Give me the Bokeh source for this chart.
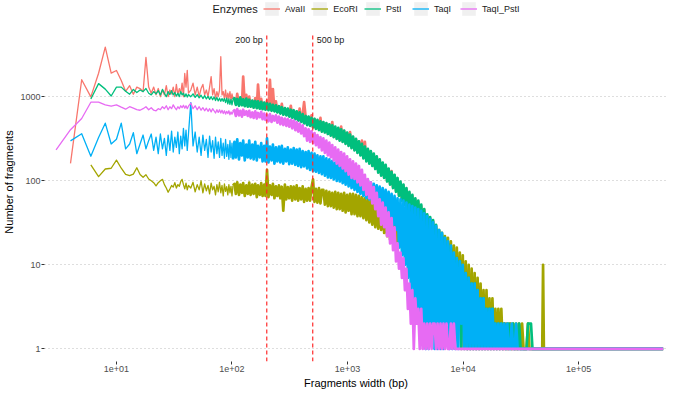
import math
from bokeh.plotting import figure
from bokeh.models import (Range1d, FixedTicker, CustomJSTickFormatter, Legend,
                          LegendItem, Label)
from bokeh.embed import file_html
from bokeh.resources import INLINE

N = float("nan")

# Fragment width (bp) grid shared by every series
X_BP = [
    3, 4, 5, 6, 7, 8, 9, 10, 11, 12,
    13, 14, 15, 16, 17, 18, 19, 20, 21, 22,
    23, 24, 25, 26, 27, 28, 29, 30, 31, 32,
    33, 34, 35, 36, 37, 38, 39, 40, 41, 42,
    44, 46, 48, 50, 52, 54, 56, 58, 60, 62,
    64, 66, 68, 70, 72, 74, 76, 78, 80, 82,
    84, 86, 88, 90, 92, 94, 96, 98, 100, 102,
    105, 108, 111, 115, 118, 122, 125, 129, 133, 137,
    141, 145, 150, 154, 159, 164, 168, 174, 179, 184,
    190, 195, 201, 207, 213, 220, 226, 233, 240, 247,
    255, 262, 270, 278, 287, 295, 304, 313, 323, 332,
    342, 353, 363, 374, 385, 397, 409, 421, 434, 447,
    460, 474, 488, 503, 518, 533, 549, 566, 583, 600,
    618, 637, 656, 676, 696, 717, 738, 760, 783, 807,
    831, 856, 881, 908, 935, 963, 992, 1022, 1052, 1084,
    1116, 1150, 1184, 1220, 1256, 1294, 1333, 1373, 1414, 1456,
    1500, 1545, 1591, 1639, 1688, 1739, 1791, 1845, 1900, 1957,
    2016, 2076, 2139, 2203, 2269, 2337, 2407, 2479, 2554, 2630,
    2709, 2791, 2874, 2961, 3049, 3141, 3235, 3332, 3432, 3535,
    3641, 3750, 3863, 3979, 4098, 4221, 4348, 4478, 4612, 4751,
    4893, 5040, 5191, 5347, 5507, 5673, 5843, 6018, 6199, 6385,
    6576, 6774, 6977, 7186, 7402, 7624, 7853, 8088, 8331, 8581,
    8838, 9104, 9377, 9658, 9948, 10246, 10554, 10870, 11196, 11532,
    11878, 12235, 12602, 12980, 13369, 13770, 14183, 14609, 15047, 15498,
    15963, 16442, 16936, 17444, 17967, 18506, 19061, 19633, 20222, 20829,
    21454, 22097, 22760, 23443, 24146, 24871, 25617, 26385, 27177, 27992,
    28832, 29697, 30588, 31506, 32451, 33424, 34427, 35460, 36524, 37619,
    38748, 39911, 41108, 44000, 48500, 49300, 50100, 120000, 300000, 540000,
]

AVAII = [
    N, 161, 1590, 995, 1900, 3880, 1910, 2050, 1560, 1160,
    1350, 1070, 1300, 1250, 1150, 2930, 1300, 1100, 1300, 1050,
    1250, 1000, 1200, 1050, 1350, 1000, 1200, 1080, 1300, 1000,
    1400, 1050, 1250, 1100, 1450, 1000, 1890, 1300, 2060, 1100,
    1200, 1450, 1050, 1300, 1000, 1250, 1400, 1050, 1200, 1000,
    1300, 1730, 1050, 1250, 950, 1150, 1000, 1200, 2990, 1050,
    1150, 950, 1200, 900, 1100, 950, 1150, 900, 1080, 950,
    940, 820, 1080, 800, 920, 810, 1730, 790, 1050, 780,
    1000, 770, 890, 750, 960, 740, 1390, 730, 940, 720,
    840, 710, 900, 700, 1585, 690, 1230, 680, 880, 660,
    760, 640, 820, 620, 720, 610, 710, 590, 780, 570,
    680, 550, 660, 530, 720, 510, 610, 860, 580, 470,
    570, 460, 600, 440, 540, 420, 520, 410, 560, 390,
    490, 380, 480, 365, 460, 350, 500, 335, 430, 320,
    420, 305, 440, 295, 390, 280, 370, 265, 380, 250,
    330, 235, 310, 220, 290, 205, 300, 190, 290, 175,
    235, 165, 220, 155, 205, 142, 190, 130, 175, 118,
    160, 110, 150, 100, 136, 92, 130, 84, 115, 76,
    104, 68, 95, 60, 88, 54, 80, 48, 72, 42,
    66, 38, 60, 33, 56, 29, 50, 25, 45, 21,
    39, 16, 36, 13, 33, 11, 29, 9, 25, 7,
    22, 6, 20, 5, 18, 4, 15, 3, 13, 2,
    12, 2, 11, 1, 10, 2, 8, 1, 7, 1,
    6, 1, 6, 1, 5, 1, 4, 1, 4, 1,
    3, 1, 3, 1, 2, 1, 2, 1, 2, 1,
    2, 1, 1, 2, 1, 1, 2, 1, 1, 1,
    1, 1, 1, 1, 1, 1, 1, 1, 1, 1,
    1, 1, 1, 1, 1, 1, 1, 1, 1, 1,
]

ECORI = [
    N, N, N, 155, 112, 138, 141, 176, 141, 119,
    115, 120, 143, 119, 110, 118, 105, 100, 95, 87,
    95, 100, 104, 90, 82, 73, 80, 88, 84, 95,
    82, 90, 86, 98, 104, 90, 80, 94, 78, 88,
    82, 96, 74, 90, 78, 100, 72, 92, 76, 88,
    70, 94, 78, 86, 68, 90, 74, 96, 72, 88,
    66, 92, 75, 85, 68, 90, 72, 86, 66, 88,
    92, 70, 96, 68, 90, 72, 94, 66, 88, 70,
    95, 68, 90, 70, 92, 64, 88, 68, 94, 66,
    90, 66, 135, 64, 88, 68, 92, 62, 86, 66,
    88, 62, 85, 44, 90, 60, 84, 62, 86, 58,
    85, 60, 88, 58, 82, 60, 86, 56, 80, 58,
    82, 58, 84, 104, 56, 80, 55, 82, 54, 78,
    78, 52, 76, 50, 74, 50, 72, 48, 74, 46,
    72, 46, 70, 44, 72, 42, 68, 44, 70, 40,
    70, 40, 68, 38, 66, 38, 64, 36, 62, 34,
    60, 32, 58, 30, 56, 28, 54, 27, 50, 26,
    48, 24, 46, 22, 44, 20, 42, 19, 40, 18,
    38, 17, 36, 16, 35, 15, 34, 14, 32, 13,
    31, 12, 30, 11, 30, 10, 29, 10, 28, 9,
    28, 9, 28, 8, 27, 8, 27, 7, 26, 6,
    24, 6, 22, 5, 21, 4, 19, 3, 17, 3,
    16, 2, 14, 2, 13, 1, 11, 1, 10, 1,
    9, 1, 8, 1, 7, 1, 6, 1, 5, 1,
    5, 1, 4, 1, 4, 1, 3, 1, 3, 1,
    3, 1, 2, 1, 2, 1, 2, 1, 2, 1,
    2, 1, 2, 1, 2, 1, 1, 1, 2, 1,
    1, 1, 1, 1, 1, 10, 1, 1, 1, 1,
]

PSTI = [
    N, N, N, 940, 1430, 1230, 1020, 1300, 1300, 1160,
    1070, 1220, 1120, 1200, 1150, 1250, 1100, 1050, 1150, 1080,
    1180, 1050, 1220, 1100, 1000, 1150, 1060, 1180, 1050, 1120,
    1020, 1100, 1000, 1150, 1050, 1100, 1000, 1080, 990, 1060,
    1000, 1080, 980, 1060, 970, 1040, 950, 1030, 940, 1010,
    930, 1000, 920, 990, 900, 980, 890, 960, 880, 950,
    880, 950, 850, 960, 820, 940, 810, 930, 800, 920,
    960, 800, 940, 780, 980, 790, 930, 770, 950, 760,
    920, 760, 900, 740, 890, 730, 880, 720, 870, 710,
    850, 700, 840, 690, 820, 680, 800, 670, 790, 650,
    770, 630, 750, 610, 730, 600, 720, 580, 700, 560,
    690, 540, 670, 520, 650, 500, 620, 480, 590, 460,
    580, 450, 560, 430, 545, 415, 530, 400, 510, 385,
    500, 375, 485, 360, 470, 345, 455, 330, 440, 315,
    425, 300, 410, 290, 395, 275, 375, 260, 355, 245,
    335, 230, 315, 215, 295, 200, 275, 185, 255, 170,
    240, 160, 225, 150, 210, 138, 195, 125, 180, 115,
    165, 108, 155, 98, 140, 90, 128, 82, 118, 74,
    108, 66, 98, 58, 90, 52, 82, 46, 74, 40,
    68, 36, 62, 32, 58, 28, 52, 24, 46, 20,
    40, 16, 37, 13, 34, 11, 30, 9, 26, 7,
    23, 6, 21, 5, 18, 4, 16, 3, 13, 2,
    12, 2, 11, 1, 9, 2, 8, 1, 7, 1,
    6, 1, 6, 1, 5, 1, 4, 1, 4, 1,
    3, 1, 3, 1, 3, 1, 2, 1, 2, 1,
    2, 1, 2, 1, 1, 2, 1, 1, 2, 1,
    1, 1, 2, 1, 1, 1, 1, 1, 2, 2,
    2, 1, 1, 1, 1, 1, 1, 1, 1, 1,
]

TAQI = [
    N, 298, 363, 196, 327, 484, 274, 312, 484, 240,
    274, 373, 210, 274, 350, 240, 300, 360, 230, 330,
    210, 360, 240, 320, 200, 350, 230, 390, 220, 330,
    250, 380, 210, 340, 240, 420, 260, 400, 230, 360,
    850, 260, 380, 220, 330, 200, 350, 230, 310, 190,
    340, 220, 300, 185, 330, 210, 290, 190, 320, 200,
    280, 185, 310, 195, 270, 180, 300, 190, 280, 180,
    290, 190, 310, 180, 280, 200, 300, 175, 270, 190,
    300, 185, 270, 180, 290, 175, 260, 190, 280, 170,
    260, 170, 320, 165, 255, 175, 270, 160, 250, 170,
    255, 165, 260, 160, 240, 170, 250, 158, 235, 160,
    245, 155, 235, 150, 240, 145, 225, 148, 220, 140,
    225, 135, 215, 130, 210, 128, 200, 124, 195, 120,
    195, 115, 185, 110, 180, 108, 172, 104, 165, 100,
    165, 98, 155, 94, 150, 90, 142, 86, 135, 82,
    130, 78, 122, 74, 118, 70, 112, 66, 105, 62,
    100, 60, 96, 56, 92, 54, 88, 50, 85, 46,
    82, 44, 78, 40, 74, 36, 70, 30, 66, 26,
    62, 16, 60, 13, 58, 10, 55, 7, 52, 5,
    50, 4, 48, 3, 46, 2, 44, 2, 41, 1,
    38, 1, 35, 2, 32, 1, 29, 1, 26, 1,
    24, 1, 21, 2, 19, 1, 17, 1, 14, 1,
    12, 1, 11, 2, 10, 1, 8, 1, 7, 1,
    6, 1, 6, 1, 5, 1, 4, 1, 4, 1,
    3, 1, 3, 1, 3, 1, 2, 1, 2, 1,
    2, 1, 2, 1, 2, 1, 1, 2, 1, 1,
    2, 1, 1, 1, 1, 1, 1, 1, 1, 1,
    1, 1, 1, 1, 1, 1, 1, 1, 1, 1,
]

TAQI_PSTI = [
    233, 405, 550, 860, 860, 800, 770, 800, 750, 710,
    760, 730, 700, 690, 720, 760, 700, 740, 690, 680,
    720, 700, 760, 720, 780, 700, 760, 720, 800, 740,
    700, 760, 720, 780, 740, 790, 730, 780, 720, 770,
    840, 720, 780, 700, 760, 690, 740, 680, 730, 670,
    720, 660, 720, 680, 640, 700, 650, 700, 640, 690,
    630, 680, 620, 670, 630, 680, 610, 660, 620, 660,
    690, 590, 710, 600, 680, 580, 700, 610, 670, 590,
    680, 570, 650, 560, 670, 550, 640, 570, 660, 540,
    630, 530, 610, 510, 620, 500, 590, 520, 600, 490,
    580, 470, 560, 460, 550, 450, 540, 440, 530, 420,
    520, 400, 500, 385, 480, 365, 455, 340, 420, 300,
    410, 290, 390, 280, 370, 265, 350, 250, 330, 230,
    320, 215, 300, 200, 285, 190, 265, 175, 250, 160,
    235, 150, 220, 140, 210, 130, 195, 118, 180, 108,
    170, 105, 160, 96, 150, 88, 135, 78, 118, 68,
    105, 62, 96, 54, 84, 46, 72, 38, 60, 30,
    55, 28, 48, 22, 42, 18, 36, 15, 28, 11,
    18, 9, 14, 7, 12, 5, 9, 3, 6, 2,
    5, 1, 4, 2, 3, 1, 3, 1, 2, 1,
    2, 1, 2, 1, 2, 2, 1, 2, 1, 2,
    1, 2, 1, 2, 1, 1, 2, 1, 2, 1,
    1, 1, 1, 1, 1, 1, 1, 1, 1, 1,
    1, 1, 1, 1, 1, 1, 1, 1, 1, 1,
    1, 1, 1, 1, 1, 1, 1, 1, 1, 1,
    1, 1, 1, 1, 1, 1, 1, 1, 1, 1,
    1, 1, 1, 1, 1, 1, 1, 1, 1, 1,
    1, 1, 1, 1, 1, 1, 1, 1, 1, 1,
]

SERIES_NAMES = ["AvaII", "EcoRI", "PstI", "TaqI", "TaqI_PstI"]
SERIES_VALUES = [AVAII, ECORI, PSTI, TAQI, TAQI_PSTI]
SERIES_COLORS = ["#F8766D", "#A3A500", "#00BF7D", "#00B0F6", "#E76BF3"]

Y_TICKS = [1, 10, 100, 1000]
Y_TICK_LABELS = ["1", "10", "100", "1000"]
X_TICKS = [10, 100, 1000, 10000, 100000]
X_TICK_LABELS = ["1e+01", "1e+02", "1e+03", "1e+04", "1e+05"]

CUT_WIDTHS = [200, 500]
CUT_LABELS = ["200 bp", "500 bp"]

# widths above this are densely sampled (drawn with a wider stroke)
DENSE_FROM_BP = 102

for s in SERIES_VALUES:
    assert len(s) == len(X_BP), (len(s), len(X_BP))

FONT = "Liberation Sans"

# axis limits (panel) and the extra head-room used for the legend strip
X_MIN, X_MAX = 10 ** 0.377, 10 ** 5.77
Y_MIN, Y_PANEL_TOP = 10 ** -0.149, 10 ** 3.75
Y_CANVAS_TOP = 10 ** 4.12
LABEL_Y = 10 ** 3.68

W, H = 669, 391
BORDER_L, BORDER_R, BORDER_T, BORDER_B = 42, 2, 2, 28

p = figure(width=W, height=H, x_axis_type="log", y_axis_type="log",
           x_range=Range1d(X_MIN, X_MAX),
           y_range=Range1d(Y_MIN, Y_CANVAS_TOP),
           output_backend="svg", toolbar_location=None,
           min_border_left=BORDER_L, min_border_right=BORDER_R,
           min_border_top=BORDER_T, min_border_bottom=BORDER_B)
p.outline_line_color = None
p.background_fill_color = "white"

fmt_code = """
for (let i = 0; i < tvals.length; i++) {
  if (Math.abs(Math.log10(tick) - Math.log10(tvals[i])) < 1e-6) { return tlabels[i]; }
}
return "";
"""
p.xaxis.ticker = FixedTicker(ticks=X_TICKS, minor_ticks=[])
p.yaxis.ticker = FixedTicker(ticks=Y_TICKS, minor_ticks=[])
p.xaxis.formatter = CustomJSTickFormatter(args=dict(tvals=X_TICKS, tlabels=X_TICK_LABELS), code=fmt_code)
p.yaxis.formatter = CustomJSTickFormatter(args=dict(tvals=Y_TICKS, tlabels=Y_TICK_LABELS), code=fmt_code)

for ax in (p.xaxis, p.yaxis):
    ax.axis_line_color = None
    ax.major_tick_line_color = "#333333"
    ax.major_tick_out = 3
    ax.major_tick_in = 0
    ax.minor_tick_line_color = None
    ax.major_label_text_font = FONT
    ax.major_label_text_font_size = "9px"
    ax.major_label_text_color = "#4D4D4D"
    ax.major_label_standoff = 1
    ax.axis_label_text_font = FONT
    ax.axis_label_text_font_size = "11px"
    ax.axis_label_text_font_style = "normal"
    ax.axis_label_text_color = "#000000"
    ax.axis_label_standoff = 2

p.xaxis.axis_label = "Fragments width (bp)"
p.yaxis.axis_label = "Number of fragments"

p.xgrid.grid_line_color = None
p.ygrid.grid_line_color = "#BDBDBD"
p.ygrid.grid_line_dash = "1 3"
p.ygrid.grid_line_width = 1

renderers = []
for name, vals, col in zip(SERIES_NAMES, SERIES_VALUES, SERIES_COLORS):
    xs_sparse = [x for x in X_BP if x <= DENSE_FROM_BP]
    ys_sparse = [v for x, v in zip(X_BP, vals) if x <= DENSE_FROM_BP]
    xs_dense = [x for x in X_BP if x >= DENSE_FROM_BP]
    ys_dense = [v for x, v in zip(X_BP, vals) if x >= DENSE_FROM_BP]
    r = p.line(xs_sparse, ys_sparse, line_color=col, line_width=1.3, line_join="round")
    p.line(xs_dense, ys_dense, line_color=col, line_width=2.7, line_join="round")
    renderers.append(r)

# size-selection cut lines (drawn over the panel height only)
p.segment(x0=CUT_WIDTHS, y0=[Y_MIN] * len(CUT_WIDTHS), x1=CUT_WIDTHS,
          y1=[Y_PANEL_TOP] * len(CUT_WIDTHS), line_color="#FF2A2A",
          line_dash="4 3", line_width=1.2)

p.add_layout(Label(x=CUT_WIDTHS[0], y=LABEL_Y, text=CUT_LABELS[0], x_offset=-4,
                   text_align="right", text_baseline="middle",
                   text_font=FONT, text_font_size="9px", text_color="#1A1A1A"))
p.add_layout(Label(x=CUT_WIDTHS[1], y=LABEL_Y, text=CUT_LABELS[1], x_offset=4,
                   text_align="left", text_baseline="middle",
                   text_font=FONT, text_font_size="9px", text_color="#1A1A1A"))

# legend (top strip inside the canvas)
frame_h = H - BORDER_T - BORDER_B
bg = p.rect(x=[N], y=[N], width=1, height=1, fill_color="#F0F0F0", line_color=None)
items = [LegendItem(label=n, renderers=[bg, r]) for n, r in zip(SERIES_NAMES, renderers)]
legend = Legend(items=items, orientation="horizontal",
                location=(219, frame_h - 17),
                glyph_width=17, glyph_height=17, label_standoff=5, spacing=6,
                padding=0, margin=0, border_line_color=None,
                background_fill_alpha=0, label_height=17,
                label_text_font=FONT, label_text_font_size="9px",
                label_text_color="#1A1A1A", label_text_baseline="middle")
p.add_layout(legend, "center")
p.add_layout(Label(x=168, y=frame_h - 8.5, x_units="screen", y_units="screen",
                   text="Enzymes", text_font=FONT, text_font_size="11px",
                   text_color="#1A1A1A", text_baseline="middle", text_align="left"))

open("out.html", "w").write(file_html(p, INLINE))
